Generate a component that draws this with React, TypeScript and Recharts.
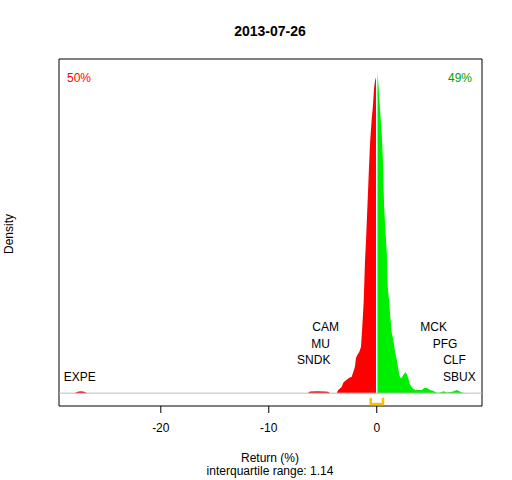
import React from 'react';
import {
  ComposedChart,
  Area,
  Line,
  Scatter,
  XAxis,
  YAxis,
  ReferenceLine,
  ReferenceArea,
} from 'recharts';

// density of daily returns, peak scaled to 100
const redReturns = [
  -28, -27.7, -27.4, -27.1, -26.8, -6.4, -6.18, -5.5, -4.8, -4.52, -4.3, -3.71,
  -3.57, -3.25, -3.1, -2.94, -2.54, -2.32, -2.17, -2.02, -1.92, -1.8, -1.62,
  -1.46, -1.34, -1.21, -1.09, -0.99, -0.84, -0.72, -0.62, -0.46, -0.37, -0.25,
  -0.16, 0,
];
const redDensity = [
  0, 0.4, 0.6, 0.4, 0, 0, 0.5, 0.6, 0.5, 0.4, 0, 0, 1.0, 1.9, 3.2, 3.8, 4.8,
  5.1, 6.6, 8.2, 11.0, 11.9, 12.8, 14.4, 20.6, 28.4, 40.8, 47.7, 60.1, 70.0,
  77.8, 85.6, 88.7, 94.8, 97.2, 99,
];
const greenReturns = [
  0, 0.03, 0.15, 0.31, 0.46, 0.56, 0.68, 0.8, 0.93, 1.02, 1.14, 1.26, 1.39,
  1.54, 1.7, 1.86, 2.01, 2.17, 2.32, 2.47, 2.69, 2.88, 3.09, 3.3, 3.56, 4.18,
  4.39, 4.64, 4.95, 5.26, 5.57, 5.88, 6.18, 6.5, 6.99, 7.43, 7.89, 8.3,
];
const greenDensity = [
  99, 100, 96.7, 88.1, 81.0, 73.5, 58.6, 50.8, 44.0, 33.1, 29.0, 23.7, 18.7,
  16.6, 12.8, 10.3, 7.2, 4.8, 4.8, 5.7, 6.6, 5.1, 2.6, 1.6, 1.0, 1.0, 1.6, 1.6,
  1.0, 0.7, 0.1, 0.2, 0.6, 0.2, 0.4, 1.0, 0.2, 0,
];

// extreme movers, innermost first
const leftTickers = ['EXPE', 'SNDK', 'MU', 'CAM'];
const leftReturns = [-27.5, -5.83, -5.2, -4.74];
const rightTickers = ['SBUX', 'CLF', 'PFG', 'MCK'];
const rightReturns = [7.66, 7.2, 6.33, 5.27];

const shares = [50, 49];
const quartiles = [-0.56, 0.58];
const xTicks = [-20, -10, 0];

const X_DOMAIN: [number, number] = [-29.43, 9.75];
const Y_DOMAIN: [number, number] = [-4, 104];
const FONT = '"Liberation Sans", Arial, sans-serif';

const table = (() => {
  const rows: { x: number; neg?: number; pos?: number }[] = [];
  redReturns.forEach((x, i) => rows.push({ x, neg: redDensity[i] }));
  greenReturns.forEach((x, i) => {
    const hit = rows.find((r) => r.x === x);
    if (hit) hit.pos = greenDensity[i];
    else rows.push({ x, pos: greenDensity[i] });
  });
  return rows.sort((a, b) => a.x - b.x);
})();

const labelRows = [
  ...leftTickers.map((name, i) => ({ x: leftReturns[i], y: 5 + i * 5.2, name })),
  ...rightTickers.map((name, i) => ({ x: rightReturns[i], y: 5 + i * 5.2, name })),
];

const bracket = [
  { x: quartiles[0], y: -1.4 },
  { x: quartiles[0], y: -3.4 },
  { x: quartiles[1], y: -3.4 },
  { x: quartiles[1], y: -1.4 },
];

const TickerLabel = (props: any) => (
  <text
    x={props.cx}
    y={props.cy}
    textAnchor="middle"
    dominantBaseline="central"
    fontSize={12}
    fontFamily={FONT}
    fill="#000"
  >
    {props.payload.name}
  </text>
);

const txt = (style: React.CSSProperties): React.CSSProperties => ({
  position: 'absolute',
  fontFamily: FONT,
  fontSize: 12,
  lineHeight: '14px',
  whiteSpace: 'nowrap',
  ...style,
});

export default function App() {
  return (
    <div style={{ position: 'absolute', left: 0, top: 0, width: 512, height: 480, background: '#fff' }}>
      <ComposedChart
        width={512}
        height={480}
        data={table}
        margin={{ top: 59, right: 30, left: 59, bottom: 44 }}
      >
        <XAxis
          dataKey="x"
          type="number"
          domain={X_DOMAIN}
          allowDataOverflow
          ticks={xTicks}
          height={30}
          axisLine={false}
          tickSize={7}
          tickMargin={10}
          tickLine={{ stroke: '#000' }}
          tick={{ fill: '#000', fontSize: 12, fontFamily: FONT }}
        />
        <YAxis type="number" domain={Y_DOMAIN} allowDataOverflow hide />
        <Area
          dataKey="neg"
          type="linear"
          stroke="none"
          fill="#ff0000"
          fillOpacity={1}
          baseValue={0}
          isAnimationActive={false}
        />
        <Area
          dataKey="pos"
          type="linear"
          stroke="none"
          fill="#00ee00"
          fillOpacity={1}
          baseValue={0}
          isAnimationActive={false}
        />
        <ReferenceLine
          segment={[{ x: 0, y: 0 }, { x: 0, y: 100 }]}
          stroke="#fff"
          strokeWidth={1.5}
        />
        <ReferenceLine y={0} stroke="#bebebe" strokeWidth={1} />
        <Line
          data={bracket}
          dataKey="y"
          type="linear"
          stroke="#f5c400"
          strokeWidth={2.5}
          dot={false}
          isAnimationActive={false}
        />
        <Scatter
          data={labelRows}
          dataKey="y"
          shape={TickerLabel}
          isAnimationActive={false}
        />
        <ReferenceArea
          x1={X_DOMAIN[0]}
          x2={X_DOMAIN[1]}
          y1={Y_DOMAIN[0]}
          y2={Y_DOMAIN[1]}
          fill="none"
          fillOpacity={0}
          stroke="#000"
          strokeWidth={1}
        />
      </ComposedChart>
      <div style={txt({ left: 270, top: 31, transform: 'translate(-50%,-50%)', fontSize: 14, fontWeight: 'bold' })}>
        2013-07-26
      </div>
      <div style={txt({ left: 67, top: 78, transform: 'translateY(-50%)', color: '#ff0000' })}>
        {shares[0]}%
      </div>
      <div style={txt({ right: 512 - 472, top: 78, transform: 'translateY(-50%)', color: '#00a000' })}>
        {shares[1]}%
      </div>
      <div style={txt({ left: 9, top: 234, transform: 'translate(-50%,-50%) rotate(-90deg)' })}>Density</div>
      <div style={txt({ left: 270, top: 458, transform: 'translate(-50%,-50%)' })}>Return (%)</div>
      <div style={txt({ left: 270, top: 471, transform: 'translate(-50%,-50%)' })}>
        interquartile range: {(quartiles[1] - quartiles[0]).toFixed(2)}
      </div>
    </div>
  );
}
